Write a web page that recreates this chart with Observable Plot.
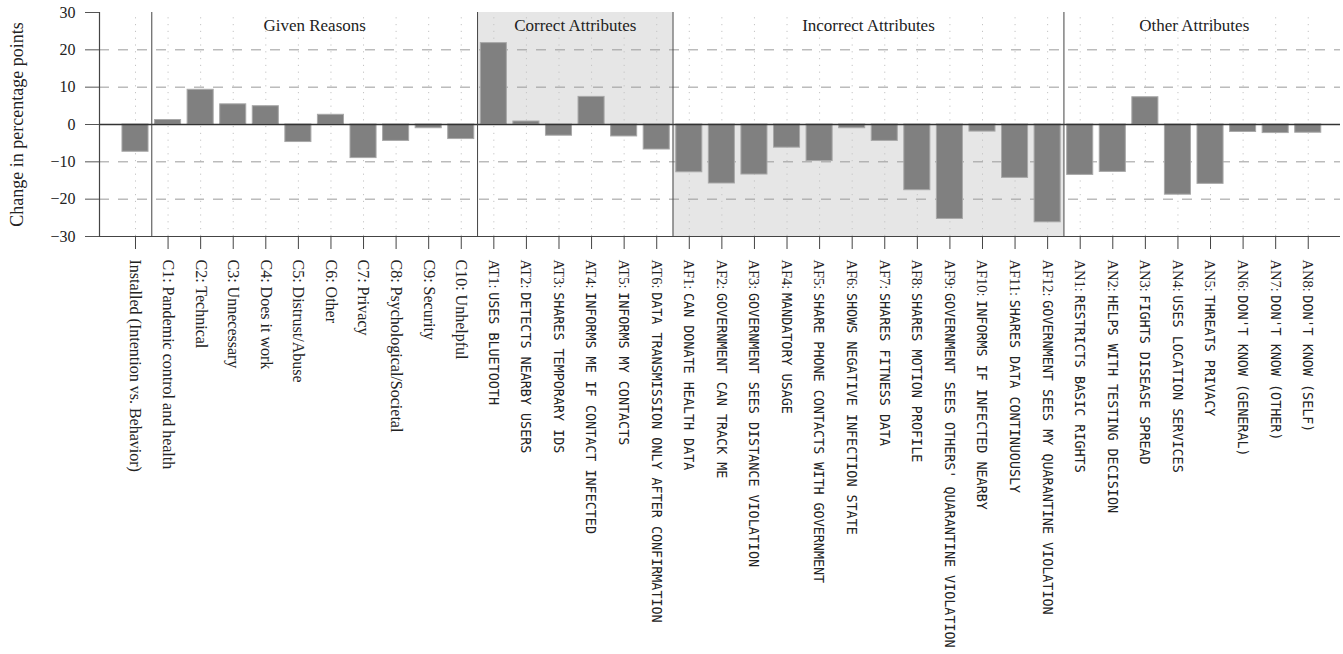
<!DOCTYPE html>
<html>
<head>
<meta charset="utf-8">
<script src="https://cdn.jsdelivr.net/npm/d3@7"></script>
<script src="https://cdn.jsdelivr.net/npm/@observablehq/plot@0.6"></script>
<style>
  html, body { margin: 0; padding: 0; background: #fff; }
  #chart svg { display: block; }
</style>
</head>
<body>
<div id="chart"></div>
<script>
const categories = [
  "Installed (Intention vs. Behavior)",
  "C1: Pandemic control and health",
  "C2: Technical",
  "C3: Unnecessary",
  "C4: Does it work",
  "C5: Distrust/Abuse",
  "C6: Other",
  "C7: Privacy",
  "C8: Psychological/Societal",
  "C9: Security",
  "C10: Unhelpful",
  "AT1: USES BLUETOOTH",
  "AT2: DETECTS NEARBY USERS",
  "AT3: SHARES TEMPORARY IDS",
  "AT4: INFORMS ME IF CONTACT INFECTED",
  "AT5: INFORMS MY CONTACTS",
  "AT6: DATA TRANSMISSION ONLY AFTER CONFIRMATION",
  "AF1: CAN DONATE HEALTH DATA",
  "AF2: GOVERNMENT CAN TRACK ME",
  "AF3: GOVERNMENT SEES DISTANCE VIOLATION",
  "AF4: MANDATORY USAGE",
  "AF5: SHARE PHONE CONTACTS WITH GOVERNMENT",
  "AF6: SHOWS NEGATIVE INFECTION STATE",
  "AF7: SHARES FITNESS DATA",
  "AF8: SHARES MOTION PROFILE",
  "AF9: GOVERNMENT SEES OTHERS' QUARANTINE VIOLATION",
  "AF10: INFORMS IF INFECTED NEARBY",
  "AF11: SHARES DATA CONTINUOUSLY",
  "AF12: GOVERNMENT SEES MY QUARANTINE VIOLATION",
  "AN1: RESTRICTS BASIC RIGHTS",
  "AN2: HELPS WITH TESTING DECISION",
  "AN3: FIGHTS DISEASE SPREAD",
  "AN4: USES LOCATION SERVICES",
  "AN5: THREATS PRIVACY",
  "AN6: DON'T KNOW (GENERAL)",
  "AN7: DON'T KNOW (OTHER)",
  "AN8: DON'T KNOW (SELF)"
];

const changes = [
  -7.3,
  1.2, 9.3, 5.4, 4.9, -4.7, 2.6, -9.0, -4.4, -1.0, -3.9,
  21.8, 0.8, -3.0, 7.4, -3.2, -6.7,
  -12.8, -15.8, -13.4, -6.2, -9.8, -1.0, -4.4, -17.6, -25.3, -1.9, -14.3, -26.2,
  -13.5, -12.7, 7.3, -18.8, -15.9, -2.0, -2.3, -2.2
];

const groupNames = ["Given Reasons", "Correct Attributes", "Incorrect Attributes", "Other Attributes"];
const groupFirst = ["C1: Pandemic control and health", "AT1: USES BLUETOOTH", "AF1: CAN DONATE HEALTH DATA", "AN1: RESTRICTS BASIC RIGHTS"];
const groupLast  = ["C10: Unhelpful", "AT6: DATA TRANSMISSION ONLY AFTER CONFIRMATION", "AF12: GOVERNMENT SEES MY QUARANTINE VIOLATION", "AN8: DON'T KNOW (SELF)"];
// shaded half of each group: "above" zero, "below" zero, or none
const groupShade = ["none", "above", "below", "none"];

const yTicks = [-30, -20, -10, 0, 10, 20, 30];
const yLabel = "Change in percentage points";

// ---- derived tables ----
const bars = categories.map((c, i) => ({i, c, v: changes[i]}));
const groups = groupNames.map((g, k) => ({
  name: g,
  a: categories.indexOf(groupFirst[k]),
  b: categories.indexOf(groupLast[k]),
  shade: groupShade[k]
}));
const shades = groups.filter(g => g.shade !== "none");
const separators = groups.map(g => g.a - 0.5);
const idx = categories.map((c, i) => i);

const chart = Plot.plot({
  width: 1343,
  height: 654,
  marginLeft: 99,
  marginRight: 3,
  marginTop: 12,
  marginBottom: 418,
  x: {type: "linear", domain: [-1.105, 36.99]},
  y: {domain: [-30, 30]},
  style: {fontFamily: "'Liberation Serif', serif", background: "#fff", color: "#222"},
  marks: [
    Plot.rect(shades, {
      x1: d => d.a - 0.5, x2: d => d.b + 0.5,
      y1: 0, y2: d => d.shade === "above" ? 30 : -30,
      fill: "#e6e6e6"
    }),
    Plot.ruleX(idx, {x: d => d, y1: -30, y2: 30, stroke: "#c4c4c4", strokeDasharray: "1.2,5.6", strokeWidth: 1}),
    Plot.ruleY(yTicks.filter(t => t !== 0 && Math.abs(t) !== 30), {stroke: "#9a9a9a", strokeDasharray: "10,9", strokeWidth: 1}),
    Plot.rect(bars, {
      x1: d => d.i - 0.4, x2: d => d.i + 0.4,
      y1: 0, y2: "v",
      fill: "#808080", stroke: "#a8a8a8", strokeWidth: 1
    }),
    Plot.ruleY([0], {stroke: "#333", strokeWidth: 1.3}),
    Plot.ruleX(separators, {x: d => d, y1: -30, y2: 30, stroke: "#444", strokeWidth: 1}),
    Plot.ruleX([-1.105], {y1: -30, y2: 30, stroke: "#444", strokeWidth: 1.2}),
    Plot.ruleY([-30], {stroke: "#444", strokeWidth: 1.2}),
    Plot.axisY({
      ticks: yTicks, tickSize: 14, tickPadding: 10, fontSize: 16,
      label: null, stroke: "#555"
    }),
    Plot.axisX({
      ticks: idx, tickSize: 13, tickFormat: () => "", label: null, stroke: "#444"
    }),
    Plot.text([yLabel], {
      frameAnchor: "left", textAnchor: "middle", rotate: -90, dx: -82,
      fontSize: 18, fill: "#222"
    }),
    Plot.text(groups, {
      x: d => (d.a + d.b) / 2, y: 30, dy: 13, text: "name",
      fontSize: 17, fill: "#222"
    }),
    Plot.text(bars, {
      x: "i", y: -30, dy: 23, text: "c", rotate: 90,
      textAnchor: "start", lineAnchor: "middle", fontSize: 16, fill: "#222"
    })
  ]
});

// Split attribute labels into a serif prefix and a monospace body
chart.querySelectorAll("text").forEach(t => {
  if (t.children.length) return;
  const m = /^(A[TFN]\d+:)\s(.*)$/.exec(t.textContent);
  if (!m) return;
  t.textContent = "";
  const ns = "http://www.w3.org/2000/svg";
  const p = document.createElementNS(ns, "tspan");
  p.setAttribute("font-size", "14.5");
  p.textContent = m[1] + " ";
  const r = document.createElementNS(ns, "tspan");
  r.setAttribute("font-family", "'DejaVu Sans Mono', monospace");
  r.setAttribute("font-size", "13.4");
  r.textContent = m[2];
  t.append(p, r);
});

document.getElementById("chart").appendChild(chart);
</script>
</body>
</html>
